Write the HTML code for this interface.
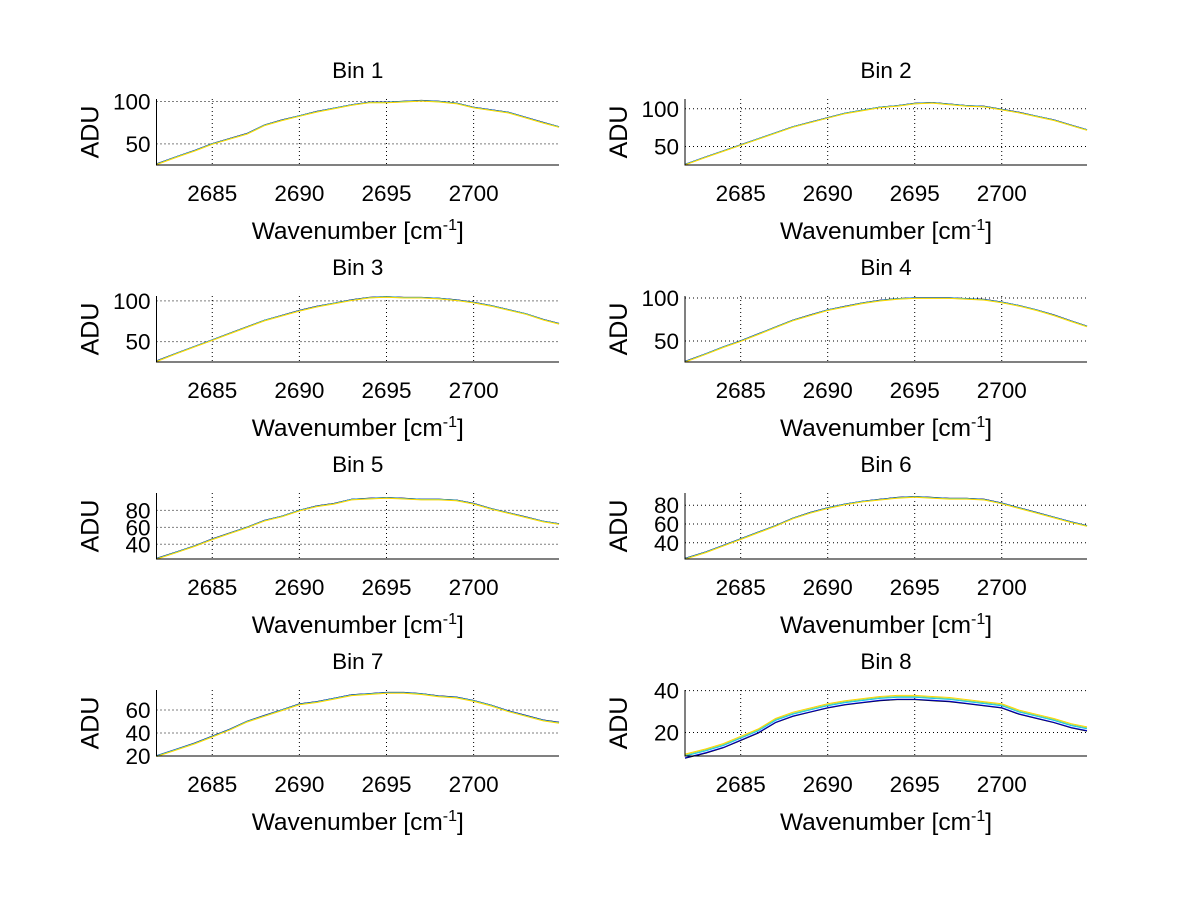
<!DOCTYPE html>
<html><head><meta charset="utf-8"><style>
body{margin:0;background:#fff}
svg{display:block}
text{font-family:"Liberation Sans",Arial,sans-serif;fill:#000}
</style></head><body>
<svg id="fig" width="1200" height="901" viewBox="0 0 1200 901"></svg>
<script>
const xs=[2681.8,2683,2684,2685,2686,2687,2688,2689,2690,2691,2692,2693,2694,2695,2696,2697,2698,2699,2700,2701,2702,2703,2704,2704.9];
const bin1=[26,35,42,50,56,62,72,78,83,88,92,96,99,99,100,101,100,98,93,90,87,81,75,70];
const bin2=[26,36,44,52,60,68,76,82,88,94,98,102,104,107,108,106,104,103,99,95,90,85,78,72];
const bin3=[26,36,44,52,60,68,76,82,88,93,97,101,104,105,104,104,103,101,98,94,89,84,77,72];
const bin4=[26,35,43,50,58,66,74,80,86,90,94,97,99,100,100,100,99,98,95,91,86,80,73,67];
const bin5=[23,31,38,46,53,60,68,73,80,85,88,93,94,95,94,93,93,92,88,82,77,72,67,64];
const bin6=[23,30,37,44,51,58,66,72,77,81,84,86,88,89,88,87,87,86,82,77,72,67,62,58];
const bin7=[20,26,31,37,43,50,55,60,65,67,70,73,74,75,75,74,72,71,68,64,59,55,51,49];
const bin8=[9,11.5,14,17.5,21,26,29,31,33,34.5,35.5,36.5,37,37,36.5,36,35,34,33,30,28,26,23.5,22];
const bins=[bin1,bin2,bin3,bin4,bin5,bin6,bin7,bin8];
const ylims=[[25,103],[25.4,113],[25,106],[25.6,102.3],[22.6,100.6],[22.7,93],[20,77.4],[8.8,40.3]];
const yticks=[[50,100],[50,100],[50,100],[50,100],[40,60,80],[40,60,80],[20,40,60],[20,40]];
const xticks=[2685,2690,2695,2700];
const xlim=[2681.8,2704.9];
const seriesColors=['#000000','#0000cc','#00bfff','#7fd87f','#ffd700'];
const offsetsSmall=[0.3,0.2,0,-0.2,-0.5];
const offsetsBin8=[-1.3,-1.1,-0.2,0.2,0.7];

const NS='http://www.w3.org/2000/svg';
const svg=document.getElementById('fig');
function mk(tag,attrs,parent){const e=document.createElementNS(NS,tag);for(const k in attrs)e.setAttribute(k,attrs[k]);(parent||svg).appendChild(e);return e;}

for(let i=0;i<8;i++){
  const col=i%2,row=Math.floor(i/2);
  const L=col?685:156.5,R=col?1087:559,T=99+row*197,B=165+row*197;
  const g=mk('g',{});
  
  
  const [y0,y1]=ylims[i];
  const sx=v=>L+(v-xlim[0])/(xlim[1]-xlim[0])*(R-L);
  const sy=v=>B-(v-y0)/(y1-y0)*(B-T);
  xticks.forEach(t=>{
    const l=mk('line',{x1:sx(t),x2:sx(t),y1:T,y2:B,stroke:'#000','stroke-width':1,'stroke-dasharray':'1,3'},g);
    
    
    const tx=mk('text',{x:sx(t),y:B+36,'font-size':22.5,'text-anchor':'middle'},g);
    tx.textContent=t;
    
    
  });
  yticks[i].forEach(t=>{
    const l=mk('line',{x1:L,x2:R,y1:sy(t),y2:sy(t),stroke:'#000','stroke-width':1,'stroke-dasharray':'1,3'},g);
    
    
    const tx=mk('text',{x:L-6,y:sy(t)+8,'font-size':22.5,'text-anchor':'end'},g);
    tx.textContent=t;
    
    
  });
  const offs=i===7?offsetsBin8:offsetsSmall;
  seriesColors.forEach((c,k)=>{
    const pts=xs.map((x,j)=>sx(x).toFixed(1)+','+sy(bins[i][j]+offs[k]).toFixed(1)).join(' ');
    const p=mk('polyline',{points:pts,fill:'none',stroke:c,'stroke-width':1},g);
    
    
  });
  const ax=mk('path',{d:`M${L},${T} L${L},${B} L${R},${B}`,fill:'none',stroke:'#000','stroke-width':1},g);
  
  
  const ti=mk('text',{x:(L+R)/2,y:T-21,'font-size':22.5,'text-anchor':'middle'},g);
  ti.textContent='Bin '+(i+1);
  
  
  const xl=mk('text',{x:(L+R)/2,y:B+74,'font-size':24.5,'text-anchor':'middle'},g);
  xl.innerHTML='Wavenumber [cm<tspan dy="-9" font-size="16">-1</tspan><tspan dy="9">]</tspan>';
  
  
  const yl=mk('text',{x:0,y:0,'font-size':25,'text-anchor':'middle',transform:`translate(${L-58},${(T+B)/2}) rotate(-90)`},g);
  yl.textContent='ADU';
  
  
}
</script>
</body></html>
